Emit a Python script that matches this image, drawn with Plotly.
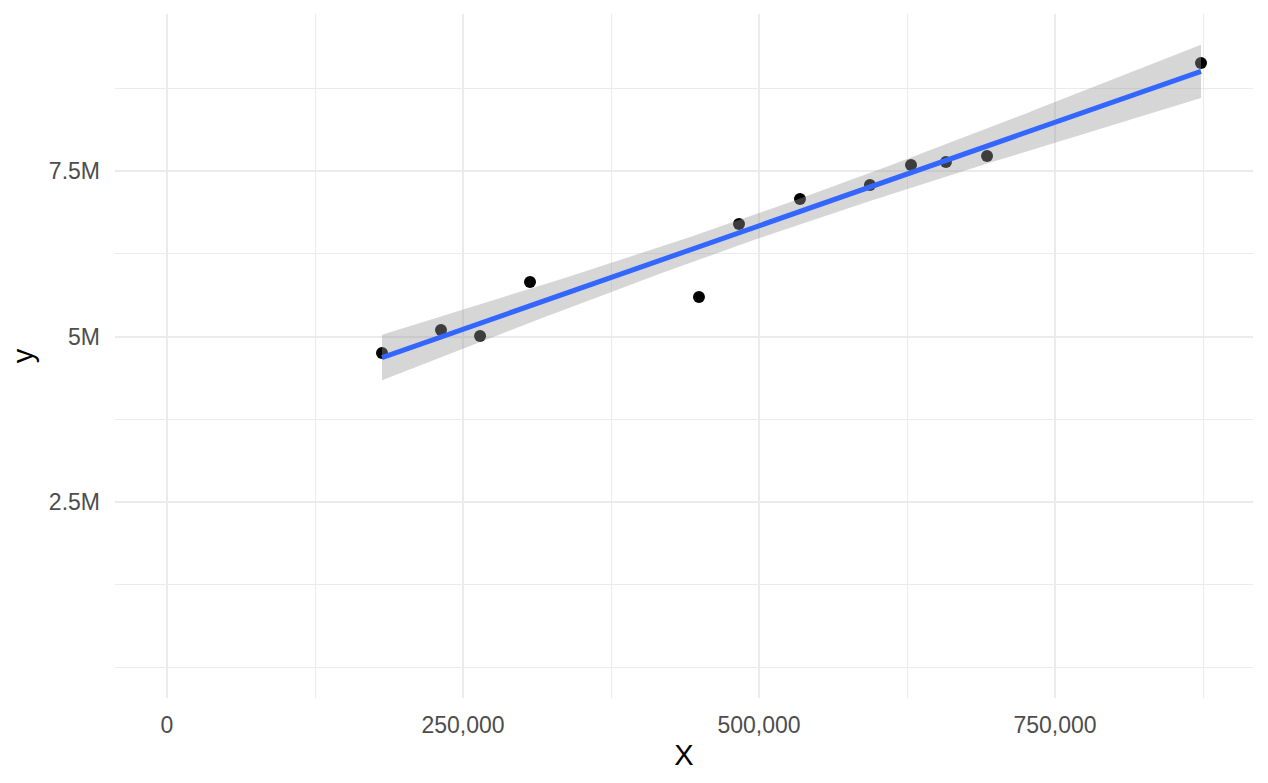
import numpy as np
import plotly.graph_objects as go

# Data
x_vals = [181600, 231400, 264400, 306600, 449300, 483100, 534600, 593700, 628400, 657900, 692600, 873300]
y_vals = [4751000, 5098000, 5008000, 5823000, 5597000, 6699000, 7077000, 7289000, 7591000, 7636000, 7727000, 9131000]

x_tickvals = [0, 250000, 500000, 750000]
x_ticktext = ["0", "250,000", "500,000", "750,000"]
x_minor = [125000, 375000, 625000, 875000]
y_tickvals = [2500000, 5000000, 7500000]
y_ticktext = ["2.5M", "5M", "7.5M"]
y_minor = [0, 1250000, 3750000, 6250000, 8750000]

# Linear fit with 95% confidence band (like geom_smooth(method="lm"))
xa = np.array(x_vals, dtype=float)
ya = np.array(y_vals, dtype=float)
n = len(xa)
slope, intercept = np.polyfit(xa, ya, 1)
resid = ya - (slope * xa + intercept)
s = np.sqrt(np.sum(resid ** 2) / (n - 2))
xbar = xa.mean()
sxx = np.sum((xa - xbar) ** 2)
t_crit = 2.228  # t(0.975, df=10)
xs = np.linspace(xa.min(), xa.max(), 80)
fit = slope * xs + intercept
se = s * np.sqrt(1.0 / n + (xs - xbar) ** 2 / sxx)
upper = fit + t_crit * se
lower = fit - t_crit * se

fig = go.Figure()
fig.add_trace(go.Scatter(x=x_vals, y=y_vals, mode="markers",
                         marker=dict(color="black", size=12, line=dict(width=0)),
                         showlegend=False, hoverinfo="skip"))
fig.add_trace(go.Scatter(x=np.concatenate([xs, xs[::-1]]), y=np.concatenate([upper, lower[::-1]]),
                         fill="toself", fillcolor="rgba(153,153,153,0.4)", line=dict(width=0),
                         mode="lines", showlegend=False, hoverinfo="skip"))
fig.add_trace(go.Scatter(x=xs, y=fit, mode="lines", line=dict(color="#3366FF", width=5),
                         showlegend=False, hoverinfo="skip"))

font_family = "Liberation Sans, Arial, sans-serif"
fig.update_layout(
    width=1268, height=783,
    margin=dict(l=115, r=15, t=14, b=85),
    paper_bgcolor="white", plot_bgcolor="white",
    font=dict(family=font_family, color="#4d4d4d", size=23),
    xaxis=dict(range=[-43919, 917230], tickvals=x_tickvals, ticktext=x_ticktext,
               showgrid=True, gridcolor="#ebebeb", gridwidth=2, zeroline=False,
               showline=False, ticks="", ticklabelstandoff=11,
               tickfont=dict(size=23, color="#4d4d4d"),
               minor=dict(tickvals=x_minor, showgrid=True, gridcolor="#ebebeb", gridwidth=1),
               title=dict(text="X", font=dict(size=29, color="black"), standoff=7),
               automargin=False),
    yaxis=dict(range=[-460700, 9872000], tickvals=y_tickvals, ticktext=y_ticktext,
               showgrid=True, gridcolor="#ebebeb", gridwidth=2, zeroline=False,
               showline=False, ticks="", ticklabelstandoff=14,
               tickfont=dict(size=23, color="#4d4d4d"),
               minor=dict(tickvals=y_minor, showgrid=True, gridcolor="#ebebeb", gridwidth=1),
               title=dict(text="y", font=dict(size=29, color="black"), standoff=6),
               automargin=False),
)

fig.write_html("out.html", config={"displayModeBar": False},
               post_script="document.body.style.margin='0';document.body.style.overflow='hidden';")
